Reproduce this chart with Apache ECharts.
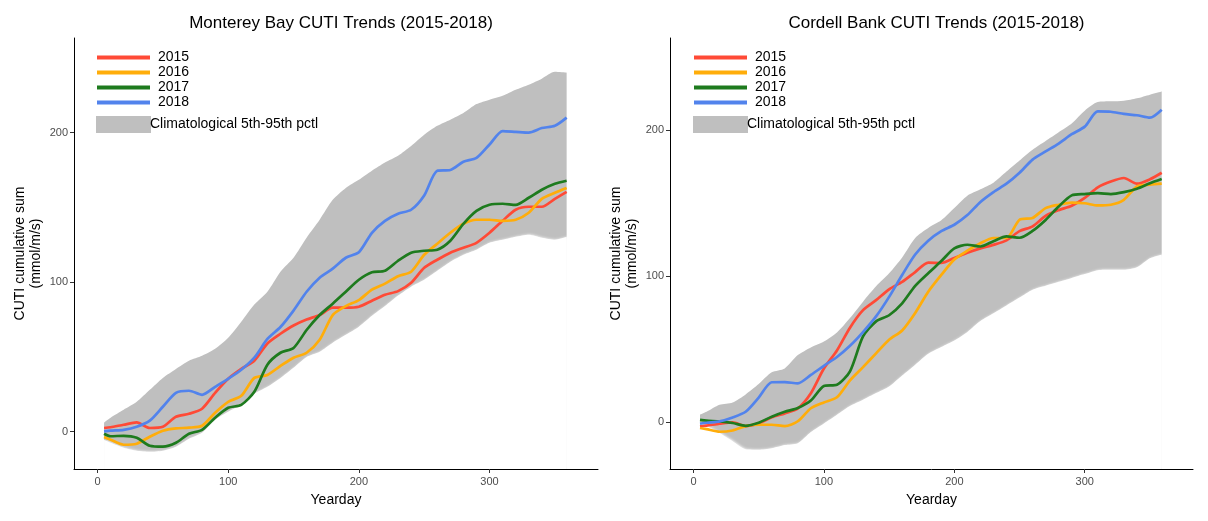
<!DOCTYPE html>
<html>
<head>
<meta charset="utf-8">
<script src="https://cdn.jsdelivr.net/npm/echarts@6/dist/echarts.min.js"></script>
<style>
  html, body { margin: 0; padding: 0; background: #fff; }
  #chart { width: 1208px; height: 521px; }
</style>
</head>
<body>
<div id="chart"></div>
<script>
// ── Data ──
const days = [5, 10, 20, 30, 40, 50, 60, 70, 80, 90, 100, 110, 120, 130, 140, 150, 160, 170, 180,
  190, 200, 210, 220, 230, 240, 250, 260, 270, 280, 290, 300, 310, 320, 330, 340, 350, 359];

const years = ['2015', '2016', '2017', '2018'];
const yearColors = ['#ff4a36', '#ffad0a', '#1e7b1e', '#5283ec'];
const bandName = 'Climatological 5th-95th pctl';

const xTicks = [0, 100, 200, 300];
const yTicks = [0, 100, 200];

// Monterey Bay
const mb2015 = [2.5, 3, 4.7, 6.2, 2.5, 3.3, 10, 12, 15.4, 26, 35.4, 42, 47.5, 59, 65.5, 71, 75, 78, 83,
  83, 83.6, 87.6, 91.6, 94, 99.6, 109.6, 115, 119.7, 123, 126.3, 133, 141, 148.4, 150.4, 150.4, 155.7, 160.4];
const mb2016 = [-3.5, -5.3, -8.7, -8, -3.3, 0.7, 2.3, 2.7, 4, 12.7, 20, 24, 36, 38, 44, 49.5, 52.8, 61.5, 78,
  84, 88, 95, 99, 104, 107, 118.3, 125.7, 133, 139, 141.7, 141.7, 141, 141.7, 146.4, 155.7, 159.8, 163];
const mb2017 = [-1.3, -3, -2.7, -4, -9.4, -10, -7.4, -1.3, 1.3, 9.4, 16, 18, 26.7, 44.8, 52.8, 56, 68, 78, 85.6,
  93.6, 101.6, 106.6, 107.6, 114.3, 119.7, 121, 121.7, 127.7, 139, 147.7, 151.7, 152.4, 151.7, 156.4, 161.8, 165.8, 167.8];
const mb2018 = [0.2, 0.7, 1.3, 3.3, 7.4, 16.7, 26, 27.4, 24.7, 30, 35.4, 41.4, 49.5, 62, 70, 81, 93.6, 103, 109,
  116.3, 120, 133, 141, 145.7, 148.4, 158, 174.5, 175, 180.5, 183, 192, 201, 200.5, 200, 203, 204.5, 210];
const mbLow = [-5.3, -7.4, -10.7, -12.7, -13.4, -12.7, -10, -4.7, -0.7, 8, 13.4, 18, 25.4, 30, 36, 42.8, 50, 53.5, 59.5,
  64.8, 70.2, 77.5, 84, 91, 97, 101.6, 107.6, 113.6, 118.3, 121.7, 126.3, 128.3, 130.3, 131.7, 129.7, 128.3, 130.3];
const mbHigh = [6.2, 9.4, 14.7, 20, 28, 36, 42, 47.5, 50.8, 55.5, 62.8, 73.5, 85, 93.6, 107, 116.3, 129.7, 141.7, 155,
  163, 168.4, 174.5, 180, 184.5, 191, 198.5, 204.5, 208.6, 213, 219, 222, 224.6, 228.6, 232, 236, 240.6, 240];

// Cordell Bank
const cb2015 = [-2.7, -2.2, -0.9, 0.1, -2.5, -0.8, 3.5, 6.2, 9.6, 20, 36.9, 49.3, 64.9, 76.9, 83.8, 91.2, 96.2, 103, 109.4,
  109.2, 112.6, 116.2, 119.2, 121.6, 124.7, 131, 134.3, 141.5, 145.4, 148.4, 153.8, 161, 165, 167.4, 163.5, 166.5, 171];
const cb2016 = [-3.8, -4.6, -6.4, -5.5, -2.5, -1.6, -1.6, -2.5, 0.8, 9.7, 13.7, 17.2, 28.8, 37.9, 47.3, 56.6, 63, 75, 89.5,
  101, 111.6, 117.6, 122.7, 126.3, 126.3, 138.8, 140, 146.8, 149.1, 150.6, 150.1, 148.6, 149.1, 152.5, 161.6, 162.8, 163.5];
const cb2017 = [1.8, 1.2, 0.7, -0.4, -2.3, -0.2, 3.9, 7.3, 9.9, 15, 25, 25.8, 35, 58.9, 69.2, 73.4, 81.6, 93.5, 102.2,
  110.5, 119.2, 121.7, 120.5, 124.1, 127.4, 126.5, 131.2, 138.7, 147.9, 155.5, 156.4, 157, 156.4, 157.7, 160, 163.8, 166.7];
const cb2018 = [-0.9, -0.2, 0.7, 3.4, 7.3, 17, 27.5, 27.6, 26.8, 32.5, 38.8, 44.8, 52.5, 61.9, 72.6, 86, 101, 115, 124.5,
  131, 135.4, 142, 151, 157.8, 163.5, 171, 180, 185.6, 191, 197.4, 202.6, 213, 212.8, 211.3, 210.4, 208.7, 214.2];
const cbLow = [-0.4, -2.4, -7.3, -12.9, -18.4, -18.7, -17.7, -15.5, -14.2, -6.6, -0.7, 5.3, 11.2, 15.5, 20.1, 24.6, 32.1, 39.5, 47,
  51.6, 56.1, 62, 69.4, 74.7, 80.1, 85.5, 90.9, 93.6, 96.3, 99, 101.6, 104.3, 104.6, 104.6, 106.3, 112.5, 114.9];
const cbHigh = [5.3, 7.3, 12.1, 13.7, 19.2, 26.3, 34.3, 37, 46.1, 51.4, 55.4, 61.6, 71.5, 82.7, 93.2, 102.1, 113, 126.4, 133.2,
  138.4, 146.8, 155.3, 159.7, 164.2, 171.8, 179.4, 186.8, 192.8, 198.8, 204.8, 213.5, 219.4, 219.9, 220.3, 222, 224.5, 226.7];

const panels = [
  { title: 'Monterey Bay CUTI Trends (2015-2018)', lines: [mb2015, mb2016, mb2017, mb2018], low: mbLow, high: mbHigh,
    grid: { left: 74, right: 610, top: 38, bottom: 52 }, yMin: -24.9, yMax: 263.2, legendLeft: 97, titleX: 336 },
  { title: 'Cordell Bank CUTI Trends (2015-2018)', lines: [cb2015, cb2016, cb2017, cb2018], low: cbLow, high: cbHigh,
    grid: { left: 670, right: 15, top: 38, bottom: 52 }, yMin: -31.9, yMax: 263.3, legendLeft: 694, titleX: 931.5 },
];

const FONT = '"Liberation Sans", Arial, sans-serif';
const pairs = arr => days.map((d, i) => [d, arr[i]]);

function buildOption() {
  const grid = [], xAxis = [], yAxis = [], series = [], title = [], legend = [];

  panels.forEach((p, k) => {
    grid.push(p.grid);
    title.push({
      text: p.title, left: p.titleX, top: 10, textAlign: 'center',
      textStyle: { fontFamily: FONT, fontSize: 17, fontWeight: 'normal', color: '#000' },
    });

    xAxis.push({
      type: 'value', gridIndex: k, min: -18, max: 383, z: 10,
      name: 'Yearday', nameLocation: 'middle', nameGap: 24,
      nameTextStyle: { fontFamily: FONT, fontSize: 14, color: '#000' },
      axisLine: { onZero: false, lineStyle: { color: '#000', width: 1 } },
      axisTick: { customValues: xTicks, length: 4, lineStyle: { color: '#333' } },
      axisLabel: { customValues: xTicks, color: '#4d4d4d', fontFamily: FONT, fontSize: 11, margin: 7 },
      splitLine: { show: false },
    });
    yAxis.push({
      type: 'value', gridIndex: k, min: p.yMin, max: p.yMax, z: 10,
      name: 'CUTI cumulative sum\n(mmol/m/s)', nameLocation: 'middle', nameGap: 30,
      nameTextStyle: { fontFamily: FONT, fontSize: 14, lineHeight: 16, color: '#000' },
      axisLine: { show: true, onZero: false, lineStyle: { color: '#000', width: 1 } },
      axisTick: { show: true, customValues: yTicks, length: 4, lineStyle: { color: '#333' } },
      axisLabel: { customValues: yTicks, color: '#4d4d4d', fontFamily: FONT, fontSize: 11, margin: 6 },
      splitLine: { show: false },
    });

    // Climatological band: grey area under the 95th pctl, masked in white under the 5th pctl
    series.push({
      type: 'line', name: bandName, xAxisIndex: k, yAxisIndex: k,
      data: pairs(p.high), symbol: 'none', smooth: 0.25, z: 1,
      itemStyle: { color: '#bfbfbf' },
      lineStyle: { width: 0, opacity: 0 },
      areaStyle: { color: '#bfbfbf', opacity: 1, origin: 'start' }, silent: true,
    });
    series.push({
      type: 'line', name: 'low' + k, xAxisIndex: k, yAxisIndex: k,
      data: pairs(p.low), symbol: 'none', smooth: 0.25, z: 1,
      itemStyle: { color: '#ffffff' },
      lineStyle: { width: 0, opacity: 0 },
      areaStyle: {
        color: '#ffffff', opacity: 1, origin: 'start',
        shadowColor: '#ffffff', shadowBlur: 3, shadowOffsetX: 1,
      },
      silent: true,
    });

    p.lines.forEach((vals, i) => {
      series.push({
        type: 'line', name: years[i], xAxisIndex: k, yAxisIndex: k,
        data: pairs(vals), symbol: 'none', smooth: 0.25,
        itemStyle: { color: yearColors[i] },
        lineStyle: { color: yearColors[i], width: 2.7 },
        z: 3,
      });
    });

    legend.push({
      orient: 'vertical', left: p.legendLeft, top: 50, itemGap: 0, padding: 0,
      itemWidth: 53, itemHeight: 4, icon: 'rect', selectedMode: false,
      itemStyle: { borderWidth: 0 },
      data: years,
      textStyle: { fontFamily: FONT, fontSize: 14, lineHeight: 15, color: '#000', padding: [0, 0, 0, 3] },
    });
    legend.push({
      orient: 'vertical', left: p.legendLeft - 1, top: 116, padding: 0,
      itemWidth: 55, itemHeight: 17, icon: 'rect', selectedMode: false,
      itemStyle: { borderWidth: 0 },
      data: [bandName],
      textStyle: { fontFamily: FONT, fontSize: 14, color: '#000', padding: [0, 0, 0, -6] },
    });
  });

  return { backgroundColor: '#fff', animation: false, title, legend, grid, xAxis, yAxis, series };
}

const chart = echarts.init(document.getElementById('chart'), null, { renderer: 'canvas' });
chart.setOption(buildOption());
</script>
</body>
</html>
